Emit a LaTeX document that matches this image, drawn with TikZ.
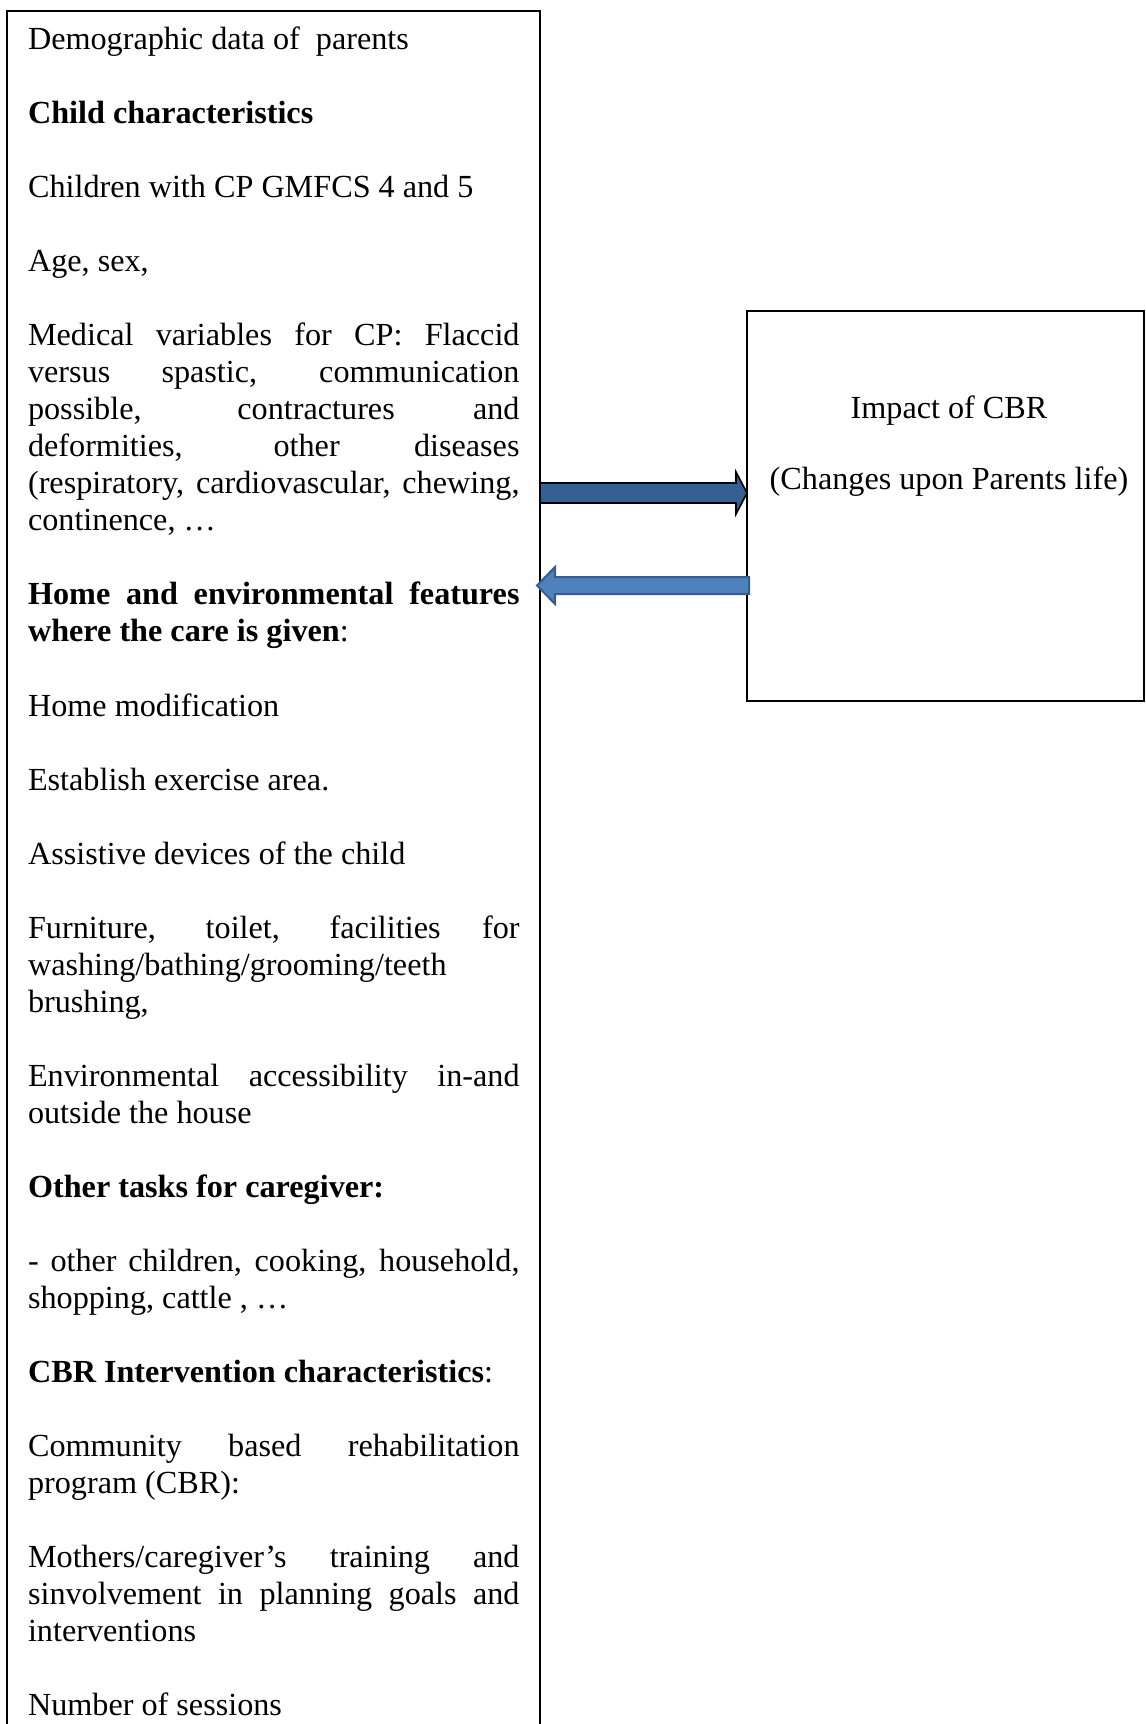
\documentclass[tikz,border=0pt]{standalone}
\usepackage{fontspec}
\setmainfont{Liberation Serif}
\usepackage{xcolor}
\usetikzlibrary{calc, positioning}
\definecolor{arrowdark}{RGB}{55,96,146}
\definecolor{arrowlight}{RGB}{79,129,189}
\definecolor{arrowedge}{RGB}{56,93,138}
\newlength{\unitpx}
\setlength{\unitpx}{0.3727pt}
\newcommand{\docfont}{\fontsize{12pt}{13.8pt}\selectfont}
\newcommand{\panelsetup}{\setlength{\parskip}{13.8pt}\setlength{\parindent}{0pt}%
  \tolerance=10000\hbadness=10000\hyphenpenalty=10000}

\begin{document}
\begin{tikzpicture}[x=1\unitpx, y=-1\unitpx,
    panel/.style={draw, rectangle, line width=0.55pt, inner sep=0pt, outer sep=0pt, anchor=north west},
    paneltext/.style={anchor=base west, inner sep=0pt, text width=491.5\unitpx, align=justify, font=\docfont},
    impacttext/.style={anchor=base, inner sep=0pt, align=center, font=\docfont},
    fwdarrow/.style={fill=arrowdark, draw=black, line width=0.6pt, line join=miter},
    backarrow/.style={fill=arrowlight, draw=arrowedge, line width=0.75pt, line join=miter}]
    \clip (0,0) rectangle (1146,1724);

    % Boxes
    \node[panel, minimum width=533\unitpx, minimum height=1800\unitpx] (factors) at (7,11) {};
    \node[panel, minimum width=397\unitpx, minimum height=390\unitpx] (impact) at (747,311) {};

    % Left box text
    \node[paneltext] (factorlist) at (27.5,49.5) {\panelsetup
      Demographic data of~ parents\par
      \textbf{Child characteristics}\par
      Children with CP GMFCS 4 and 5\par
      Age, sex,\par
      Medical variables for CP: Flaccid\linebreak versus spastic, communication\linebreak
      possible, contractures and\linebreak deformities, other diseases\linebreak
      (respiratory, cardiovascular, chewing,\linebreak continence, …\par
      \textbf{Home and environmental features\linebreak where the care is given}:\par
      Home modification\par
      Establish exercise area.\par
      Assistive devices of the child\par
      Furniture, toilet, facilities for\linebreak washing/bathing/grooming/teeth\newline brushing,\par
      Environmental accessibility in-and\linebreak outside the house\par
      \textbf{Other tasks for caregiver:}\par
      - other children, cooking, household,\linebreak shopping, cattle , …\par
      \textbf{CBR Intervention characteristics}:\par
      Community based rehabilitation\linebreak program (CBR):\par
      Mothers/caregiver’s training and\linebreak sinvolvement in planning goals and\linebreak interventions\par
      Number of sessions\par};

    % Right box text (base = last line)
    \node[impacttext] (impactlabel) at (949,489) {Impact of CBR\\[12.6pt](Changes upon Parents life)};

    % Block arrows
    \coordinate (fwd) at (factors.east |- 0,493);
    \coordinate (back) at (impact.west |- 0,585.5);
    \filldraw[fwdarrow] ($(fwd)+(0,-10)$) -- ($(impact.west |- fwd)+(-11,-10)$) -- ++(0,-11)
      -- (impact.west |- fwd) -- ++(-11,21) -- ++(0,-11) -- ($(fwd)+(0,10)$) -- cycle;
    \filldraw[backarrow] ($(back)+(2,-8.5)$) -- ($(factors.east |- back)+(15,-8.5)$) -- ++(0,-10)
      -- ++(-18,18.5) -- ++(18,18.5) -- ++(0,-10) -- ($(back)+(2,8.5)$) -- cycle;
\end{tikzpicture}
\end{document}
